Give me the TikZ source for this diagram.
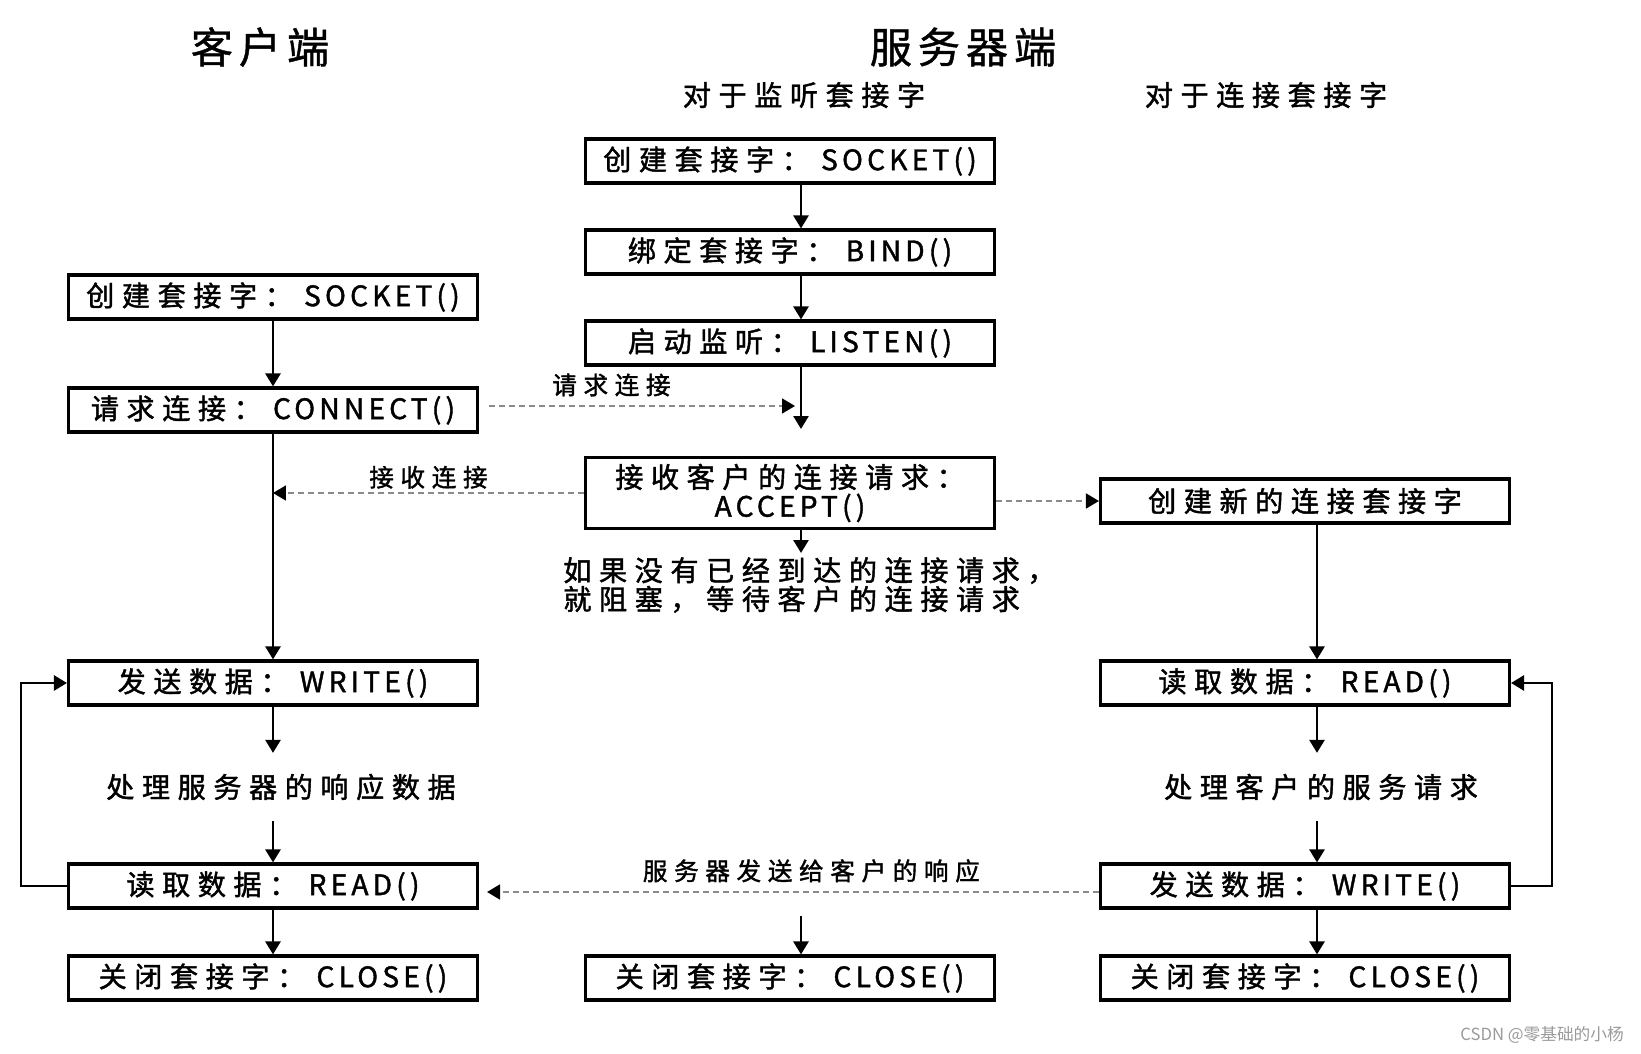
\documentclass[tikz,border=0pt]{standalone}
\usepackage{fontspec}
\setmainfont{Noto Sans CJK SC}[LetterSpace=27,FakeBold=1.5]
\newfontfamily\apifont{Noto Sans CJK SC}[LetterSpace=15,FakeBold=1.5]
\newfontfamily\headfont{Noto Sans CJK SC}[LetterSpace=14,FakeBold=1]
\newfontfamily\wmfont{Noto Sans CJK SC}
\newcommand\api[1]{\hspace{0.4em}{\apifont #1\kern0.15em()}}
\usetikzlibrary{arrows.meta,positioning,calc}
\definecolor{dashgray}{HTML}{8A8A8A}
\definecolor{wmgray}{HTML}{9A9A9A}
\tikzset{
  >={Triangle[length=2.6mm,width=3mm]},
  % kästen
  call/.style={draw=black,line width=1.8pt,minimum width=8.18cm,minimum height=0.88cm,
               inner sep=0pt,align=center,font=\fontsize{16}{16.5}\selectfont},
  note/.style={inner sep=0pt,outer ysep=0.42cm,font=\fontsize{16}{16.5}\selectfont},
  block/.style={inner sep=0pt,anchor=west,align=left,font=\fontsize{16}{16.4}\selectfont},
  head/.style={font=\headfont\fontsize{24}{26}\selectfont},
  sub/.style={font=\fontsize{16}{18}\selectfont},
  % pfeile
  flow/.style={->,draw=black,line width=1.5pt},
  msg/.style={-{Triangle[length=2.6mm,width=3mm,color=black]},draw=dashgray,line width=1pt,
              dash pattern=on 0.12cm off 0.08cm},
  msgl/.style={font=\fontsize{14}{15}\selectfont,inner sep=2pt},
  wm/.style={font=\wmfont\fontsize{9.5}{10}\selectfont,text=wmgray},
}
\begin{document}
\begin{tikzpicture}[x=0.02cm,y=-0.02cm]
\useasboundingbox (0,0) rectangle (1641,1054);
  % titel
  \node[head] (tcli) at (260,47) {客户端};
  \node[head] (tsrv) at (963,47) {服务器端};
  \node[sub] (tlis) at (804,95) {对于监听套接字};
  \node[sub] (tcon) at (1266,95) {对于连接套接字};
  % klient
  \node[call] (csock) at (273,297) {创建套接字：\api{SOCKET}};
  \node[call] (cconn) at (273,410) {请求连接：\api{CONNECT}};
  \node[call] (cwrite) at (273,683) {发送数据：\api{WRITE}};
  \node[note] (cproc) at (281,787) {处理服务器的响应数据};
  \node[call] (cread) at (273,886) {读取数据：\api{READ}};
  \node[call] (cclose) at (273,978) {关闭套接字：\api{CLOSE}};
  % server, lyssnande
  \coordinate (sx) at (801,0);
  \node[call] (ssock) at (790,161) {创建套接字：\api{SOCKET}};
  \node[call] (sbind) at (790,252) {绑定套接字：\api{BIND}};
  \node[call] (slist) at (790,343) {启动监听：\api{LISTEN}};
  \coordinate (swait) at (801,429);
  \node[call,minimum height=1.42cm] (sacc) at (790,493) {接收客户的连接请求：\\{\apifont ACCEPT\kern0.15em()}};
  \coordinate (sblk) at (801,553);
  \node[block] (snote) at (563,585) {如果没有已经到达的连接请求，\\就阻塞，等待客户的连接请求};
  \coordinate (sfin) at (801,916);
  \node[call] (sclose) at (790,978) {关闭套接字：\api{CLOSE}};
  % server, anslutning
  \coordinate (rx) at (1317,0);
  \node[call] (nsock) at (1305,501) {创建新的连接套接字};
  \node[call] (rread) at (1305,683) {读取数据：\api{READ}};
  \node[note] (rproc) at (1321,787) {处理客户的服务请求};
  \node[call] (rwrite) at (1305,886) {发送数据：\api{WRITE}};
  \node[call] (rclose) at (1305,978) {关闭套接字：\api{CLOSE}};
  \node[wm,anchor=east] (wmark) at (1630,1035) {CSDN @零基础的小杨};
  % flöden klient
  \draw[flow] (csock) -- (cconn);
  \draw[flow] (cconn) -- (cwrite);
  \draw[flow] (cwrite) -- (cwrite.south |- cproc.north);
  \draw[flow] (cwrite.south |- cproc.south) -- (cread);
  \draw[flow] (cread) -- (cclose);
  \draw[flow] (cread.west) -- ++(-46,0) |- (cwrite.west);
  % flöden server
  \draw[flow] (ssock.south -| sx) -- (sbind.north -| sx);
  \draw[flow] (sbind.south -| sx) -- (slist.north -| sx);
  \draw[flow] (slist.south -| sx) -- (swait);
  \draw[flow] (sacc.south -| sx) -- (sblk);
  \draw[flow] (sfin) -- (sclose.north -| sx);
  \draw[flow] (nsock.south -| rx) -- (rread.north -| rx);
  \draw[flow] (rread.south -| rx) -- (rproc.north -| rx);
  \draw[flow] (rproc.south -| rx) -- (rwrite.north -| rx);
  \draw[flow] (rwrite.south -| rx) -- (rclose.north -| rx);
  \draw[flow] (rwrite.east) -- ++(41,0) |- (rread.east);
  % meddelanden
  \draw[msg] ([xshift=0.2cm,yshift=0.08cm]cconn.east) -- node[msgl,above=3pt,pos=0.4] {请求连接}
    ([xshift=-0.12cm,yshift=0.08cm]cconn.east -| swait);
  \draw[msg] (sacc.west) -- node[msgl,above] {接收连接} (sacc.west -| cconn.south);
  \draw[msg] (sacc.east |- nsock.west) -- (nsock.west);
  \draw[msg] ([yshift=-0.12cm]rwrite.west) -- node[msgl,above=3pt,pos=0.47] {服务器发送给客户的响应}
    ([xshift=0.16cm,yshift=-0.12cm]cread.east);
\end{tikzpicture}
\end{document}
